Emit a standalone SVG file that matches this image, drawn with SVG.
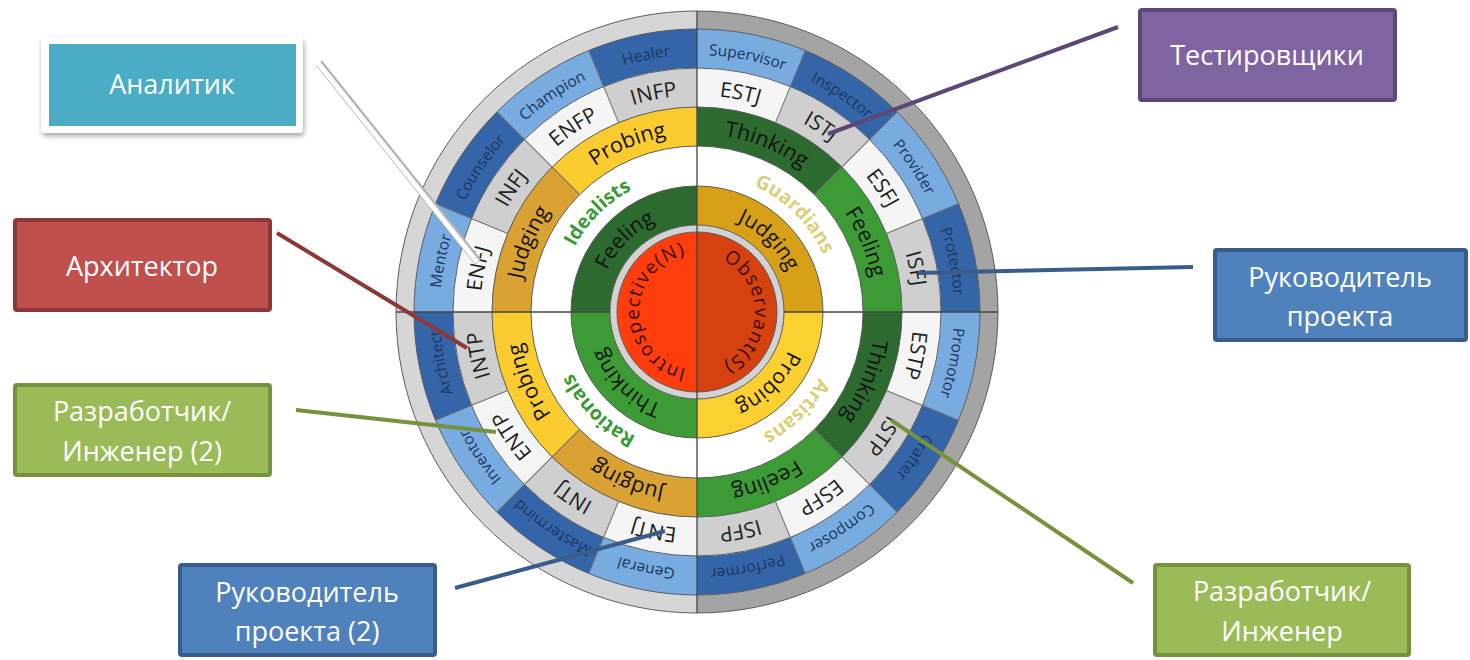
<svg xmlns="http://www.w3.org/2000/svg" width="1470" height="660" viewBox="0 0 1470 660">
<style>
.rg{fill:none}
.sep{stroke:#6e6e6e;stroke-width:1}
.edge{fill:none;stroke:#5c5c5c;stroke-width:1}
.axis{stroke:#444;stroke-width:1.3}
.role{font-family:'Open Sans',sans-serif;font-size:15.5px;fill:#1c355e;text-anchor:middle}
.type{font-family:'Open Sans',sans-serif;font-size:21px;fill:#1e1e1e;text-anchor:middle}
.temp{font-family:'Open Sans',sans-serif;font-size:21.5px;fill:#121212;text-anchor:middle}
.grp{font-family:'Open Sans',sans-serif;font-size:19.5px;font-weight:bold;text-anchor:middle}
.inner{font-family:'Open Sans',sans-serif;font-size:21px;fill:#121212;text-anchor:middle}
.ctr{font-family:'Open Sans',sans-serif;font-size:19px;fill:#3b0a00;text-anchor:middle;letter-spacing:1.2px}
.lbl{font-family:'Open Sans',sans-serif;font-size:27px;fill:#fff;text-anchor:middle}
.con{fill:none;stroke-width:4;stroke-linecap:butt}
</style>
<defs>
<path id="p259" d="M697,55 A257,257 0 1 1 697,569 A257,257 0 1 1 697,55"/>
<path id="p218" d="M697,95.5 A216.5,216.5 0 1 1 697,528.5 A216.5,216.5 0 1 1 697,95.5"/>
<path id="p178" d="M697,134 A178,178 0 1 1 697,490 A178,178 0 1 1 697,134"/>
<path id="p139" d="M697,173.5 A138.5,138.5 0 1 1 697,450.5 A138.5,138.5 0 1 1 697,173.5"/>
<path id="p99" d="M697,213 A99,99 0 1 1 697,411 A99,99 0 1 1 697,213"/>
<path id="p58" d="M697,254 A58,58 0 1 1 697,370 A58,58 0 1 1 697,254"/>
<clipPath id="odd16">
<polygon points="697,312 850.1,-57.6 979.8,29.2"/>
<polygon points="697,312 1066.6,158.9 1097,312"/>
<polygon points="697,312 1066.6,465.1 979.8,594.8"/>
<polygon points="697,312 850.1,681.6 697,712"/>
<polygon points="697,312 543.9,681.6 414.2,594.8"/>
<polygon points="697,312 327.4,465.1 297,312"/>
<polygon points="697,312 327.4,158.9 414.2,29.2"/>
<polygon points="697,312 543.9,-57.6 697,-88"/>
</clipPath>
<clipPath id="tDark">
<polygon points="697,312 697,-88 979.8,29.2"/>
<polygon points="697,312 1097,312 979.8,594.8"/>
</clipPath>
<clipPath id="tGold">
<polygon points="697,312 697,712 414.2,594.8"/>
<polygon points="697,312 297,312 414.2,29.2"/>
</clipPath>
<clipPath id="tYel">
<polygon points="697,312 414.2,594.8 297,312"/>
<polygon points="697,312 414.2,29.2 697,-88"/>
</clipPath>
<clipPath id="qBR"><rect x="697" y="312" width="400" height="400"/></clipPath>
<clipPath id="qBL"><rect x="297" y="312" width="400" height="400"/></clipPath>
<clipPath id="qTL"><rect x="297" y="-88" width="400" height="400"/></clipPath>
<clipPath id="hR"><rect x="697" y="0" width="400" height="660"/></clipPath>
<filter id="sh" x="-10%" y="-10%" width="125%" height="135%">
<feDropShadow dx="1" dy="3" stdDeviation="2.5" flood-color="#000" flood-opacity="0.35"/>
</filter>
</defs>
<rect width="1470" height="660" fill="#fff"/>

<g id="wheel">
<circle class="rg" cx="697" cy="312" r="292" stroke="#d6d6d6" stroke-width="18"/>
<circle class="rg" cx="697" cy="312" r="292" stroke="#a4a4a4" stroke-width="18" clip-path="url(#hR)"/>
<circle class="rg" cx="697" cy="312" r="263.5" stroke="#78abe0" stroke-width="39"/>
<circle class="rg" cx="697" cy="312" r="263.5" stroke="#3465a8" stroke-width="39" clip-path="url(#odd16)"/>
<circle class="rg" cx="697" cy="312" r="224.5" stroke="#f5f5f5" stroke-width="39"/>
<circle class="rg" cx="697" cy="312" r="224.5" stroke="#cfcfcf" stroke-width="39" clip-path="url(#odd16)"/>
<circle class="rg" cx="697" cy="312" r="185.5" stroke="#3d9b36" stroke-width="39"/>
<circle class="rg" cx="697" cy="312" r="185.5" stroke="#2d6a2f" stroke-width="39" clip-path="url(#tDark)"/>
<circle class="rg" cx="697" cy="312" r="185.5" stroke="#d9a232" stroke-width="39" clip-path="url(#tGold)"/>
<circle class="rg" cx="697" cy="312" r="185.5" stroke="#fbcc2f" stroke-width="39" clip-path="url(#tYel)"/>
<circle cx="697" cy="312" r="166" fill="#fff"/>
<circle class="rg" cx="697" cy="312" r="106.5" stroke="#d8a016" stroke-width="39"/>
<circle class="rg" cx="697" cy="312" r="106.5" stroke="#fcd030" stroke-width="39" clip-path="url(#qBR)"/>
<circle class="rg" cx="697" cy="312" r="106.5" stroke="#3d9b36" stroke-width="39" clip-path="url(#qBL)"/>
<circle class="rg" cx="697" cy="312" r="106.5" stroke="#2d6a2f" stroke-width="39" clip-path="url(#qTL)"/>
<circle class="rg" cx="697" cy="312" r="83.5" stroke="#d2d2d2" stroke-width="7"/>
<circle cx="697" cy="312" r="80" fill="#ff3d0d"/>
<path d="M697,232 A80,80 0 0 1 697,392 Z" fill="#d5420f"/>

<circle class="edge" cx="697" cy="312" r="301" stroke="#888"/>
<circle class="edge" cx="697" cy="312" r="283"/>
<circle class="edge" cx="697" cy="312" r="244"/>
<circle class="edge" cx="697" cy="312" r="205"/>
<circle class="edge" cx="697" cy="312" r="166"/>
<circle class="edge" cx="697" cy="312" r="126"/>
<circle class="edge" cx="697" cy="312" r="87" stroke="#777"/>
<circle class="edge" cx="697" cy="312" r="80" stroke="#8a2a10"/>

<g class="sep">
<line x1="697" y1="107" x2="697" y2="29" transform="rotate(22.5 697 312)"/>
<line x1="697" y1="146" x2="697" y2="29" transform="rotate(45 697 312)"/>
<line x1="697" y1="107" x2="697" y2="29" transform="rotate(67.5 697 312)"/>
<line x1="697" y1="107" x2="697" y2="29" transform="rotate(112.5 697 312)"/>
<line x1="697" y1="146" x2="697" y2="29" transform="rotate(135 697 312)"/>
<line x1="697" y1="107" x2="697" y2="29" transform="rotate(157.5 697 312)"/>
<line x1="697" y1="107" x2="697" y2="29" transform="rotate(202.5 697 312)"/>
<line x1="697" y1="146" x2="697" y2="29" transform="rotate(225 697 312)"/>
<line x1="697" y1="107" x2="697" y2="29" transform="rotate(247.5 697 312)"/>
<line x1="697" y1="107" x2="697" y2="29" transform="rotate(292.5 697 312)"/>
<line x1="697" y1="146" x2="697" y2="29" transform="rotate(315 697 312)"/>
<line x1="697" y1="107" x2="697" y2="29" transform="rotate(337.5 697 312)"/>
</g>
<line class="axis" x1="697" y1="11" x2="697" y2="613"/>
<line class="axis" x1="396" y1="312" x2="610" y2="312"/>
<line class="axis" x1="784" y1="312" x2="998" y2="312"/>

<text class="role"><textPath href="#p259" startOffset="3.125%">Supervisor</textPath></text>
<text class="role"><textPath href="#p259" startOffset="9.375%">Inspector</textPath></text>
<text class="role"><textPath href="#p259" startOffset="15.625%">Provider</textPath></text>
<text class="role"><textPath href="#p259" startOffset="21.875%">Protector</textPath></text>
<text class="role"><textPath href="#p259" startOffset="28.125%">Promotor</textPath></text>
<text class="role"><textPath href="#p259" startOffset="34.375%">Crafter</textPath></text>
<text class="role"><textPath href="#p259" startOffset="40.625%">Composer</textPath></text>
<text class="role"><textPath href="#p259" startOffset="46.875%">Performer</textPath></text>
<text class="role"><textPath href="#p259" startOffset="53.125%">General</textPath></text>
<text class="role"><textPath href="#p259" startOffset="59.375%">Mastermind</textPath></text>
<text class="role"><textPath href="#p259" startOffset="65.625%">Inventor</textPath></text>
<text class="role"><textPath href="#p259" startOffset="71.875%">Architect</textPath></text>
<text class="role"><textPath href="#p259" startOffset="78.125%">Mentor</textPath></text>
<text class="role"><textPath href="#p259" startOffset="84.375%">Counselor</textPath></text>
<text class="role"><textPath href="#p259" startOffset="90.625%">Champion</textPath></text>
<text class="role"><textPath href="#p259" startOffset="96.875%">Healer</textPath></text>

<text class="type"><textPath href="#p218" startOffset="3.125%">ESTJ</textPath></text>
<text class="type"><textPath href="#p218" startOffset="9.375%">ISTJ</textPath></text>
<text class="type"><textPath href="#p218" startOffset="15.625%">ESFJ</textPath></text>
<text class="type"><textPath href="#p218" startOffset="21.875%">ISFJ</textPath></text>
<text class="type"><textPath href="#p218" startOffset="28.125%">ESTP</textPath></text>
<text class="type"><textPath href="#p218" startOffset="34.375%">ISTP</textPath></text>
<text class="type"><textPath href="#p218" startOffset="40.625%">ESFP</textPath></text>
<text class="type"><textPath href="#p218" startOffset="46.875%">ISFP</textPath></text>
<text class="type"><textPath href="#p218" startOffset="53.125%">ENTJ</textPath></text>
<text class="type"><textPath href="#p218" startOffset="59.375%">INTJ</textPath></text>
<text class="type"><textPath href="#p218" startOffset="65.625%">ENTP</textPath></text>
<text class="type"><textPath href="#p218" startOffset="71.875%">INTP</textPath></text>
<text class="type"><textPath href="#p218" startOffset="78.125%">ENFJ</textPath></text>
<text class="type"><textPath href="#p218" startOffset="84.375%">INFJ</textPath></text>
<text class="type"><textPath href="#p218" startOffset="90.625%">ENFP</textPath></text>
<text class="type"><textPath href="#p218" startOffset="96.875%">INFP</textPath></text>

<text class="temp"><textPath href="#p178" startOffset="6.25%">Thinking</textPath></text>
<text class="temp"><textPath href="#p178" startOffset="18.75%">Feeling</textPath></text>
<text class="temp"><textPath href="#p178" startOffset="31.25%">Thinking</textPath></text>
<text class="temp"><textPath href="#p178" startOffset="43.75%">Feeling</textPath></text>
<text class="temp"><textPath href="#p178" startOffset="56.25%">Judging</textPath></text>
<text class="temp"><textPath href="#p178" startOffset="68.75%">Probing</textPath></text>
<text class="temp"><textPath href="#p178" startOffset="81.25%">Judging</textPath></text>
<text class="temp"><textPath href="#p178" startOffset="93.75%">Probing</textPath></text>

<text class="grp" fill="#d9d07c"><textPath href="#p139" startOffset="12.5%">Guardians</textPath></text>
<text class="grp" fill="#d9d07c"><textPath href="#p139" startOffset="37.5%">Artisans</textPath></text>
<text class="grp" fill="#3a9a35"><textPath href="#p139" startOffset="62.5%">Rationals</textPath></text>
<text class="grp" fill="#3a9a35"><textPath href="#p139" startOffset="87.5%">Idealists</textPath></text>

<text class="inner"><textPath href="#p99" startOffset="12.5%">Judging</textPath></text>
<text class="inner"><textPath href="#p99" startOffset="37.5%">Probing</textPath></text>
<text class="inner"><textPath href="#p99" startOffset="62.5%">Thinking</textPath></text>
<text class="inner"><textPath href="#p99" startOffset="87.5%">Feeling</textPath></text>

<text class="ctr"><textPath href="#p58" startOffset="25%">Observant(S)</textPath></text>
<text class="ctr"><textPath href="#p58" startOffset="75%">Introspective(N)</textPath></text>
</g>

<g id="connectors">
<line x1="319" y1="63" x2="478" y2="262" stroke="#b4b4b4" stroke-width="8"/>
<line x1="318" y1="63" x2="477" y2="262" stroke="#fff" stroke-width="5"/>
<line class="con" x1="277" y1="233" x2="467" y2="348" stroke="#8c3836"/>
<line class="con" x1="296" y1="410" x2="496" y2="432" stroke="#76923c"/>
<line class="con" x1="455" y1="588" x2="665" y2="531" stroke="#385d8a"/>
<line class="con" x1="1118" y1="27" x2="828" y2="134" stroke="#5c4776"/>
<line class="con" x1="1193" y1="267" x2="918" y2="273" stroke="#385d8a"/>
<line class="con" x1="1133" y1="583" x2="891" y2="420" stroke="#76923c"/>
</g>

<g id="n-analyst">
<rect x="41" y="37" width="262" height="96" rx="4" fill="#fff" filter="url(#sh)"/>
<rect x="49" y="44" width="247" height="82" fill="#4bacc6"/>
<text class="lbl" x="172" y="94">Аналитик</text>
</g>
<g id="n-architect">
<rect x="15" y="220" width="255" height="90" rx="2" fill="#c0504d" stroke="#8c3836" stroke-width="4"/>
<text class="lbl" x="142" y="276">Архитектор</text>
</g>
<g id="n-dev2">
<rect x="15" y="385" width="255" height="90" rx="2" fill="#9bbb59" stroke="#76923c" stroke-width="4"/>
<text class="lbl" x="142" y="421">Разработчик/</text>
<text class="lbl" x="142" y="461">Инженер (2)</text>
</g>
<g id="n-pm2">
<rect x="180" y="565" width="255" height="90" rx="2" fill="#4f81bd" stroke="#385d8a" stroke-width="4"/>
<text class="lbl" x="307" y="602">Руководитель</text>
<text class="lbl" x="307" y="641">проекта (2)</text>
</g>
<g id="n-testers">
<rect x="1140" y="10" width="255" height="90" rx="2" fill="#8064a2" stroke="#5c4776" stroke-width="4"/>
<text class="lbl" x="1267" y="65">Тестировщики</text>
</g>
<g id="n-pm">
<rect x="1215" y="250" width="251" height="90" rx="2" fill="#4f81bd" stroke="#385d8a" stroke-width="4"/>
<text class="lbl" x="1340" y="287">Руководитель</text>
<text class="lbl" x="1340" y="326">проекта</text>
</g>
<g id="n-dev">
<rect x="1155" y="565" width="254" height="90" rx="2" fill="#9bbb59" stroke="#76923c" stroke-width="4"/>
<text class="lbl" x="1282" y="601">Разработчик/</text>
<text class="lbl" x="1282" y="641">Инженер</text>
</g>
</svg>
